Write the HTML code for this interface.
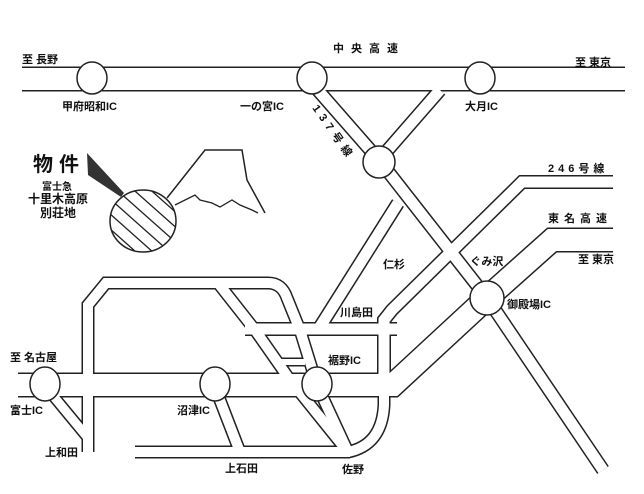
<!DOCTYPE html>
<html><head><meta charset="utf-8"><style>
html,body{margin:0;padding:0;background:#fff;}
svg{display:block;}
text{font-family:"Liberation Sans","Noto Sans CJK JP",sans-serif;font-weight:bold;fill:#111;}
</style></head><body>
<svg width="644" height="494" viewBox="0 0 644 494" xmlns="http://www.w3.org/2000/svg">
<rect width="644" height="494" fill="#fff"/>
<g fill="none" stroke="#222" stroke-linejoin="miter" stroke-linecap="butt">
  <!-- outlines -->
  <g stroke="#222">
    <path d="M22,79 H625" stroke-width="25"/>
    <path d="M18,385 H393 L487,298 L552,240 H613" stroke-width="25"/>
    <path d="M316,88 L379,160 L487,298 L603,470" stroke-width="14"/>
    <path d="M440,90 L379,160" stroke-width="14"/>
    <path d="M398,203 L318,330" stroke-width="14"/>
    <path d="M613,182 H522 L392,310 L384,320 V385" stroke-width="14"/>
    <path d="M384,385 V405 Q382,445 348,452" stroke-width="13"/>
    <path d="M88,452 V305 L106,283 H268 Q282,283 287,298 L300,330 L317,385 L348,452" stroke-width="13"/>
    <path d="M218,283 L255,330 L290,380 L348,452" stroke-width="13"/>
    <path d="M245,329 H397" stroke-width="14"/>
    <path d="M280,362 H305" stroke-width="9"/>
    <path d="M135,452 H350" stroke-width="13"/>
    <path d="M218,395 L240,452" stroke-width="13"/>
    <path d="M50,392 L88,438" stroke-width="12"/>
  </g>
  <g stroke="#fff">
    <path d="M22,79 H625" stroke-width="22"/>
    <path d="M18,385 H393 L487,298 L552,240 H613" stroke-width="22"/>
    <path d="M316,88 L379,160 L487,298 L603,470" stroke-width="11"/>
    <path d="M440,90 L379,160" stroke-width="11"/>
    <path d="M398,203 L318,330" stroke-width="11"/>
    <path d="M613,182 H522 L392,310 L384,320 V385" stroke-width="11"/>
    <path d="M384,385 V405 Q382,445 348,452" stroke-width="10"/>
    <path d="M88,452 V305 L106,283 H268 Q282,283 287,298 L300,330 L317,385 L348,452" stroke-width="10"/>
    <path d="M218,283 L255,330 L290,380 L348,452" stroke-width="10"/>
    <path d="M245,329 H397" stroke-width="11"/>
    <path d="M280,362 H305" stroke-width="6"/>
    <path d="M135,452 H350" stroke-width="10"/>
    <path d="M218,395 L240,452" stroke-width="10"/>
    <path d="M50,392 L88,438" stroke-width="9"/>
  </g>
  <!-- interchanges -->
  <g fill="#fff" stroke="#222" stroke-width="1.5">
    <ellipse cx="92" cy="78" rx="15" ry="16"/>
    <ellipse cx="312" cy="78" rx="15" ry="16"/>
    <ellipse cx="480" cy="78" rx="15" ry="16"/>
    <ellipse cx="379" cy="162" rx="16" ry="16"/>
    <ellipse cx="487" cy="298" rx="17" ry="17"/>
    <ellipse cx="45" cy="384" rx="15" ry="17"/>
    <ellipse cx="215" cy="384" rx="15" ry="17"/>
    <ellipse cx="317" cy="384" rx="15" ry="17"/>
  </g>
  <!-- Mt Fuji -->
  <path d="M167,198 L205,150 H242 L247,180 L265,213" stroke-width="1.5"/>
  <path d="M175,205 L195,195 L200,200 L212,203 L220,207 L232,200 L240,205 L252,210 L258,213" stroke-width="1.3"/>
  <!-- hatched circle -->
  <clipPath id="cc"><ellipse cx="143" cy="221" rx="33" ry="31"/></clipPath>
  <g clip-path="url(#cc)" stroke-width="1.3">
    <path d="M100,175 L190,255 M100,190 L190,270 M100,205 L190,285 M100,160 L190,240 M100,145 L190,225 M100,220 L190,300 M100,130 L190,210"/>
  </g>
  <ellipse cx="143" cy="221" rx="33" ry="31" stroke-width="1.5"/>
</g>
<polygon points="87,153 88,175 121,197 124,193" fill="#333"/>
<text x="33" y="171" font-size="20" letter-spacing="6">物件</text>
<text x="42" y="190" font-size="10">富士急</text>
<text x="28" y="203" font-size="12">十里木高原</text>
<text x="40" y="217" font-size="12">別荘地</text>

<text x="22" y="63" font-size="11">至 長野</text>
<text x="333" y="52" font-size="11" letter-spacing="7">中央高速</text>
<text x="575" y="66" font-size="11">至 東京</text>
<text x="62" y="110" font-size="11">甲府昭和IC</text>
<text x="240" y="110" font-size="11">一の宮IC</text>
<text x="465" y="110" font-size="11">大月IC</text>
<text x="0" y="0" font-size="11" letter-spacing="5" transform="translate(312,108) rotate(55)">137号線</text>
<text x="548" y="172" font-size="11" letter-spacing="4">246号線</text>
<text x="548" y="222" font-size="11" letter-spacing="5">東名高速</text>
<text x="578" y="263" font-size="11">至 東京</text>
<text x="383" y="268" font-size="11">仁杉</text>
<text x="470" y="265" font-size="11">ぐみ沢</text>
<text x="340" y="316" font-size="11">川島田</text>
<text x="507" y="308" font-size="11">御殿場IC</text>
<text x="328" y="364" font-size="11">裾野IC</text>
<text x="10" y="361" font-size="11">至 名古屋</text>
<text x="10" y="414" font-size="11">富士IC</text>
<text x="177" y="414" font-size="11">沼津IC</text>
<text x="45" y="456" font-size="11">上和田</text>
<text x="225" y="472" font-size="11">上石田</text>
<text x="342" y="473" font-size="11">佐野</text>
</svg>
</body></html>
